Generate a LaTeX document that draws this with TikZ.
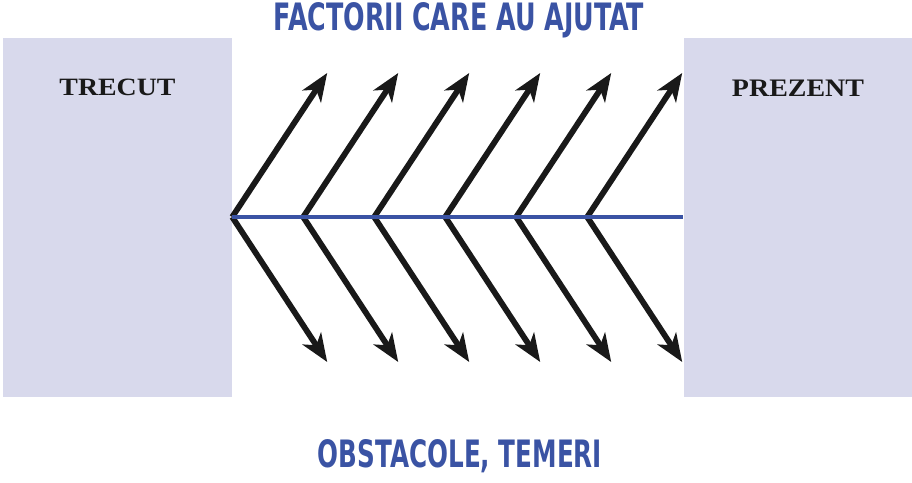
\documentclass[tikz,border=0pt]{standalone}
\usepackage{fontspec}
\setmainfont{Liberation Serif}
\newfontfamily\headfont{DejaVu Sans Condensed}
\usetikzlibrary{
	arrows.meta,
	positioning,
	calc,
}
\definecolor{titleblue}{HTML}{3A53A4}
\definecolor{boxfill}{HTML}{D8D9EC}
\tikzset{timebox/.style={
		% The shape:
		rectangle,
		% The size:
		minimum width=229pt,minimum height=359pt,
		% The filling:
		fill=boxfill,draw=none,
		inner sep=0pt,
}}
\tikzset{timelabel/.style={
		font=\bfseries,
		text=black!90,
		inner sep=0pt,
}}
\tikzset{headline/.style={
		font=\headfont\bfseries,
		text=titleblue,
		inner sep=0pt,
}}
\tikzset{factor/.style={
		-{Stealth[length=28pt,width=22pt,inset=8pt]},
		line width=5.8pt,black!90,
}}

\begin{document}
\begin{tikzpicture}[x=1pt,y=1pt]
	\useasboundingbox (0,0) rectangle (912,482);
	% the two time blocks
	\node[timebox] (trecut) at (117.5,264.5) {};
	\node[timebox] (prezent) at (798,264.5) {};
	\node[timelabel] (trecutlbl) at ($(trecut.north)+(0,-50)$) {\resizebox{116pt}{16.5pt}{TRECUT}};
	\node[timelabel] (prezentlbl) at ($(prezent.north)+(0,-50)$) {\resizebox{132pt}{16.5pt}{PREZENT}};
	% headings
	\node[headline] (factori) at (459,462) {\resizebox{370pt}{28pt}{FACTORII CARE AU AJUTAT}};
	\node[headline] (obstacole) at (460,26) {\resizebox{284pt}{28pt}{OBSTACOLE, TEMERI}};
	% the spine with the arrows
	\coordinate (spinestart) at (trecut.east |- 0,265);
	\coordinate (spineend) at (prezent.west |- 0,265);
	\foreach \i in {0,...,5}{
		\coordinate (root\i) at ($(spinestart)+(71*\i,0)$);
		\coordinate (up\i) at ($(root\i)+(95,144)$);
		\coordinate (down\i) at ($(root\i)+(95,-145)$);
		\draw[factor] (root\i) -- (up\i);
		\draw[factor] (root\i) -- (down\i);
	}
	\draw[titleblue,line width=4.5pt] (spinestart) -- (spineend);
\end{tikzpicture}
\end{document}
